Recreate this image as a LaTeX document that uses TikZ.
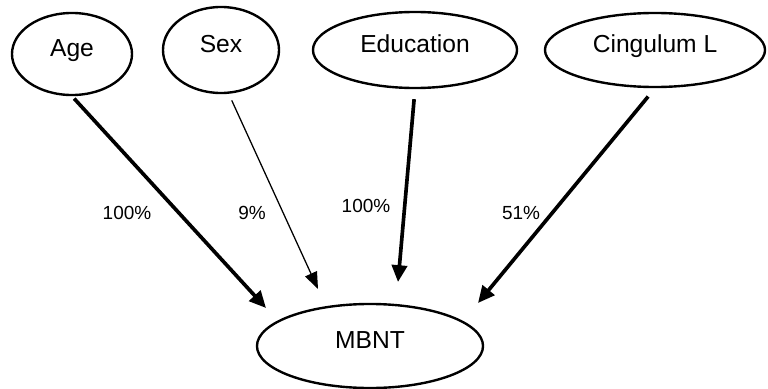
\documentclass[tikz,border=0pt]{standalone}
\usepackage{fontspec}
\setmainfont{Liberation Sans}
\usetikzlibrary{arrows.meta,shapes.geometric}

\begin{document}
\begin{tikzpicture}[x=0.025cm,y=-0.025cm,
    var/.style={ellipse,draw,line width=1.7pt,inner sep=0pt,
      font=\fontsize{17.5}{20}\selectfont,text height=0.75em,text depth=0.45em},
    strong/.style={-{Triangle[length=0.42cm,width=0.38cm]},line width=2.6pt},
    weak/.style={-{Triangle[length=0.42cm,width=0.32cm]},line width=0.9pt},
    pct/.style={font=\fontsize{13.5}{16}\selectfont}]
  \useasboundingbox (0,0) rectangle (768,388);
  \node[var,minimum width=3cm,minimum height=2.05cm] (age) at (72,54) {Age};
  \node[var,minimum width=2.9cm,minimum height=2.15cm] (sex) at (221,50) {Sex};
  \node[var,minimum width=5.1cm,minimum height=1.9cm] (edu) at (415,50) {Education};
  \node[var,minimum width=5.5cm,minimum height=1.85cm] (cing) at (655,50) {Cingulum L};
  \node[var,minimum width=5.65cm,minimum height=2.1cm] (mbnt) at (370,346) {MBNT};
  \coordinate (tipAge) at (266,308);
  \coordinate (tipSex) at (318,289);
  \coordinate (tipEdu) at (398,282);
  \coordinate (tipCing) at (478,303);
  \draw[strong,shorten <=0.08cm] (age.south) -- (tipAge);
  \draw[weak,shorten <=0.18cm] (sex.-80) -- (tipSex);
  \draw[strong,shorten <=0.25cm] (edu.south) -- (tipEdu);
  \draw[strong,shorten <=0.27cm] (cing.south) -- (tipCing);
  \node[pct] (pAge) at (127,213) {100\%};
  \node[pct] (pSex) at (252,213) {9\%};
  \node[pct] (pEdu) at (366,206) {100\%};
  \node[pct] (pCing) at (521,213) {51\%};
\end{tikzpicture}
\end{document}
